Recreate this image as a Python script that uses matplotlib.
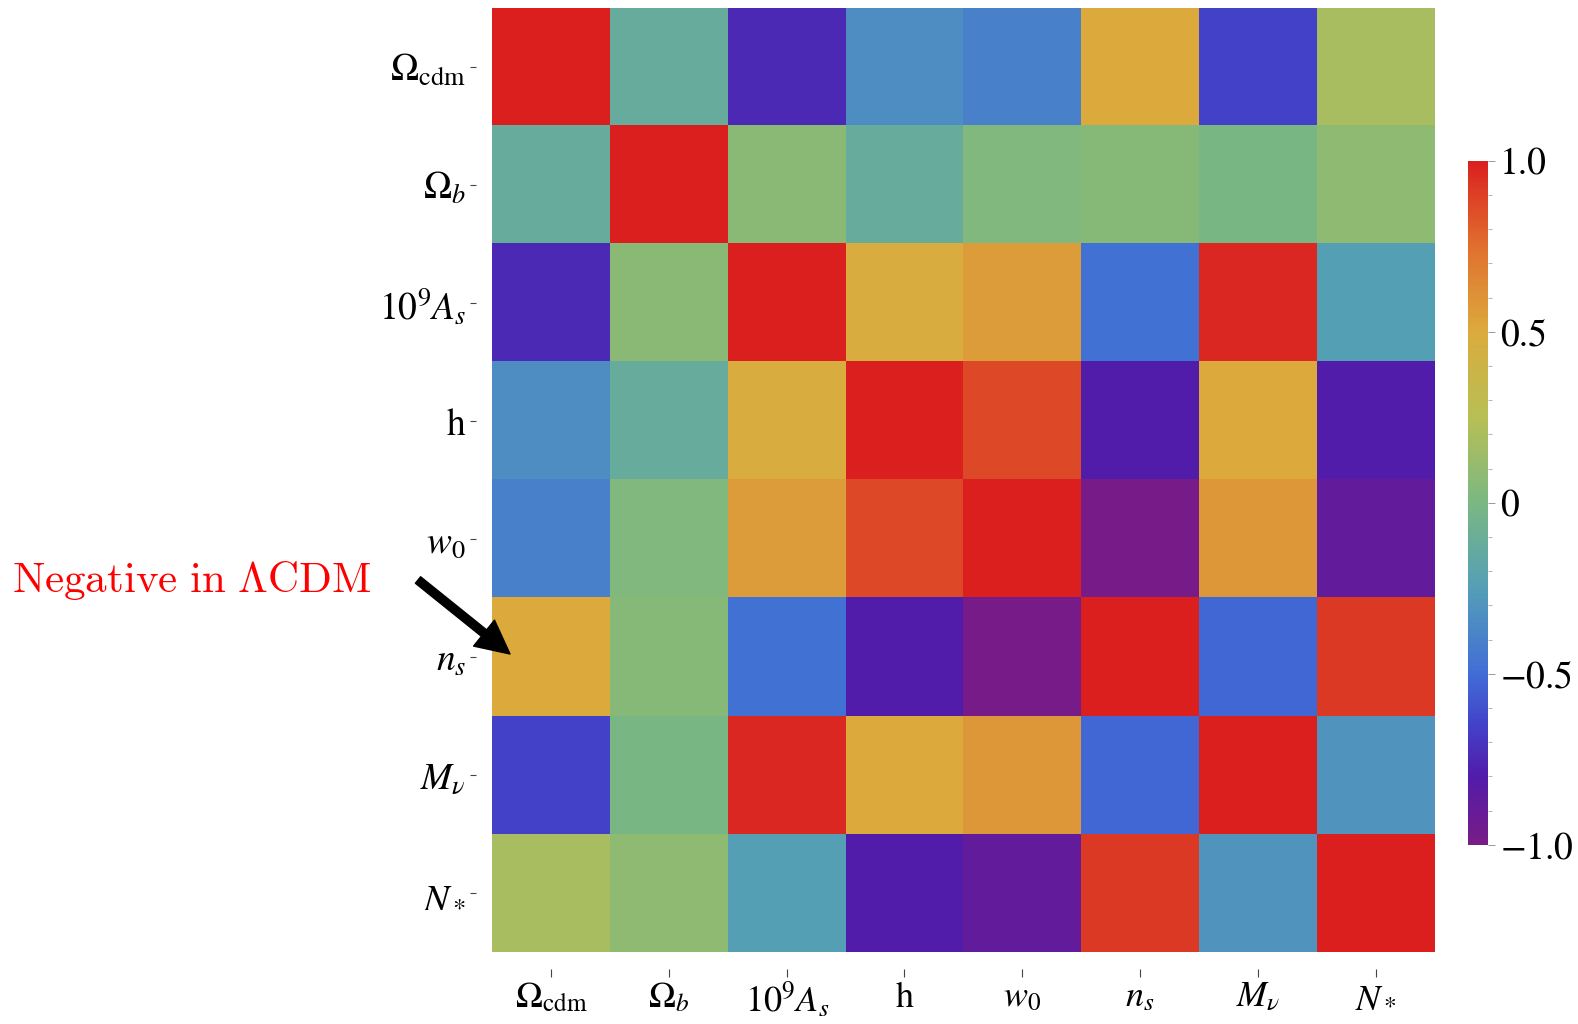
import matplotlib.pyplot as plt
import numpy as np
from matplotlib.colors import LinearSegmentedColormap

params = [r"$\Omega_{\rm cdm}$", r"$\Omega_b$", r"$10^9A_s$", r"$\rm h$",
          r"$w_0$", r"$n_s$", r"$M_\nu$", r"$N_*$"]

# correlation matrix, rows/cols in the order of params
corr = np.array([
    [ 1.00, -0.125, -0.75, -0.33, -0.40,  0.50, -0.65,  0.18],
    [-0.125, 1.00,   0.07, -0.125, 0.03,  0.05, -0.01,  0.08],
    [-0.75,  0.07,   1.00,  0.48,  0.56, -0.48,  0.97, -0.24],
    [-0.33, -0.125,  0.48,  1.00,  0.87, -0.80,  0.50, -0.80],
    [-0.40,  0.03,   0.56,  0.87,  1.00, -0.99,  0.58, -0.88],
    [ 0.50,  0.05,  -0.48, -0.80, -0.99,  1.00, -0.52,  0.92],
    [-0.65, -0.01,   0.97,  0.50,  0.58, -0.52,  1.00, -0.30],
    [ 0.18,  0.08,  -0.24, -0.80, -0.88,  0.92, -0.30,  1.00],
])

# Mathematica-like "Rainbow" gradient (position in [0,1], rgb)
rainbow = LinearSegmentedColormap.from_list("rainbow_mma", [
    (0.000, (0.471, 0.109, 0.527)),
    (0.100, (0.320, 0.110, 0.670)),
    (0.175, (0.260, 0.260, 0.790)),
    (0.250, (0.255, 0.430, 0.840)),
    (0.375, (0.330, 0.620, 0.720)),
    (0.500, (0.480, 0.720, 0.510)),
    (0.625, (0.720, 0.750, 0.330)),
    (0.750, (0.860, 0.670, 0.240)),
    (0.875, (0.880, 0.440, 0.180)),
    (1.000, (0.860, 0.125, 0.125)),
])

plt.rcParams["mathtext.fontset"] = "stix"
plt.rcParams["font.family"] = "STIXGeneral"

fig = plt.figure(figsize=(15.78, 10.24), dpi=100)
ax = fig.add_axes([0.312, 0.070, 0.597, 0.922])
im = ax.imshow(corr, cmap=rainbow, vmin=-1, vmax=1, aspect="auto",
               interpolation="nearest")

for side in ["left", "bottom"]:
    ax.spines[side].set_position(("outward", 12))
for s in ax.spines.values():
    s.set_visible(False)
ax.set_xticks(range(len(params)))
ax.set_yticks(range(len(params)))
ax.set_xticklabels(params)
ax.set_yticklabels(params)
ax.tick_params(axis="x", length=6, width=0.8, color="#444444", pad=3,
               labelsize=26)
ax.tick_params(axis="y", length=4, width=0.8, color="#444444", pad=3,
               labelsize=27)

cax = fig.add_axes([0.930, 0.175, 0.0127, 0.668])
cb = fig.colorbar(im, cax=cax)
cb.outline.set_visible(False)
cb.set_ticks([-1.0, -0.5, 0, 0.5, 1.0])
cb.set_ticklabels([r"$-1.0$", r"$-0.5$", "0", "0.5", "1.0"])
cb.ax.set_yticks(np.arange(-1, 1.01, 0.1), minor=True)
cb.ax.tick_params(which="major", labelsize=27, length=5, width=0.6,
                  color="#888888", pad=4)
cb.ax.tick_params(which="minor", length=3, width=0.6, color="#aaaaaa")

fig.text(12 / 1578, 1 - 580 / 1024, r"$\mathrm{Negative\ in\ \Lambda CDM}$",
         color="red", fontsize=31, va="center", ha="left", math_fontfamily="cm")
ax.annotate("", xy=(510 / 1578, 1 - 654 / 1024), xycoords="figure fraction",
            xytext=(418 / 1578, 1 - 580 / 1024), textcoords="figure fraction",
            arrowprops=dict(facecolor="black", edgecolor="black", width=6,
                            headwidth=24, headlength=24))

fig.savefig("out.png", dpi=100)
